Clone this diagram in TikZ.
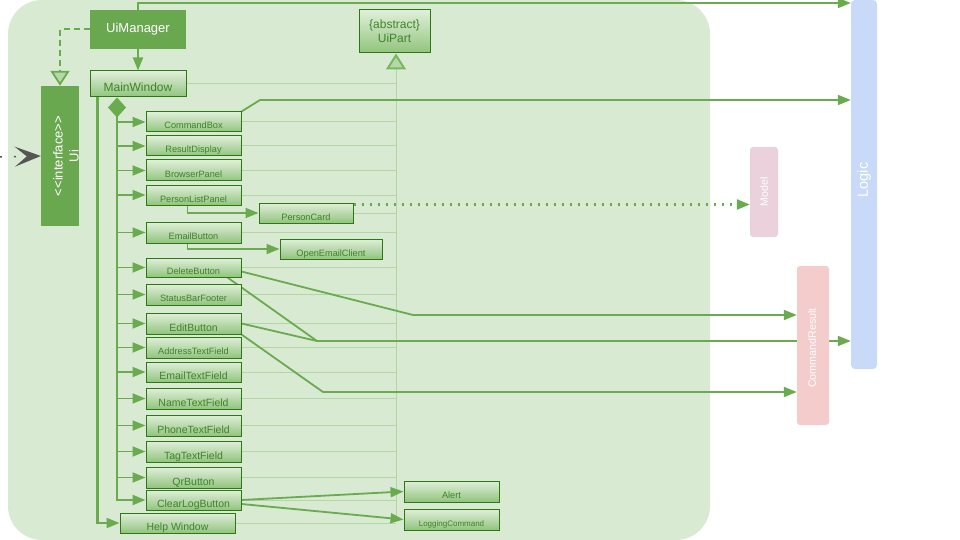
\documentclass[tikz,border=0pt]{standalone}
\usepackage{fontspec}
\setmainfont{Liberation Sans}
\usetikzlibrary{arrows.meta,shapes.geometric,calc}
\pgfdeclarelayer{back}
\pgfdeclarelayer{conn}
\pgfsetlayers{back,conn,main}

\definecolor{bg}{RGB}{217,234,211}
\definecolor{dg}{RGB}{106,168,79}
\definecolor{ln}{RGB}{106,171,80}
\definecolor{bd}{RGB}{45,120,20}
\definecolor{tx}{RGB}{62,132,42}
\definecolor{gtop}{RGB}{224,239,218}
\definecolor{gbot}{RGB}{145,196,125}
\definecolor{thinc}{RGB}{180,214,165}
\definecolor{trif}{RGB}{182,215,168}
\definecolor{midg}{RGB}{120,185,95}
\definecolor{logicc}{RGB}{201,218,248}
\definecolor{modelc}{RGB}{234,209,220}
\definecolor{crc}{RGB}{244,204,204}
\definecolor{grayc}{RGB}{85,85,85}

\begin{document}
\begin{tikzpicture}[x=1pt,y=-1pt,
  gbox/.style={draw=bd, line width=1pt, top color=gtop, bottom color=gbot, inner sep=0pt, text=tx},
  comp/.style={gbox, minimum width=95pt, minimum height=20pt, text height=14pt, text depth=0pt, font=\fontsize{9.2}{10}\selectfont},
  big/.style={font=\fontsize{10.5}{12}\selectfont, text height=15.5pt},
  cn/.style={draw=ln, line width=1.8pt},
  arr/.style={-{Triangle[length=13pt,width=10pt]}},
  trunk/.style={draw=ln, line width=2.2pt},
  thinline/.style={draw=thinc, line width=1pt},
  rotlbl/.style={rotate=90, text=white, inner sep=0pt}
]
\useasboundingbox (0,0) rectangle (960,540);
\begin{pgfonlayer}{back}
  \fill[white] (0,0) rectangle (960,540);
  \fill[bg, rounded corners=34pt] (8,0) rectangle (710,540);
\end{pgfonlayer}

% right-hand packages
\node[fill=logicc, rounded corners=4pt, minimum width=26pt, minimum height=369pt, inner sep=0pt] (Logic) at (864,184.5) {};
\node[rotlbl, font=\fontsize{14.6}{16}\selectfont] (LogicLbl) at (864,180) {Logic};
\node[fill=modelc, rounded corners=3pt, minimum width=28pt, minimum height=90pt, inner sep=0pt] (Model) at (764,192) {};
\node[rotlbl, font=\fontsize{10.6}{12}\selectfont] (ModelLbl) at (Model.center) {Model};
\node[fill=crc, rounded corners=3pt, minimum width=32pt, minimum height=159pt, inner sep=0pt] (CommandResult) at (813,345.5) {};
\node[rotlbl, font=\fontsize{10.7}{12}\selectfont] (CRLbl) at (812,348) {CommandResult};

% main classes
\node[fill=dg, minimum width=96pt, minimum height=39pt, inner sep=0pt, text=white, font=\fontsize{13}{15}\selectfont] (UiManager) at (138,29.5) {UiManager};
\node[gbox, minimum width=96pt, minimum height=26pt, text height=16pt, text depth=0pt, font=\fontsize{12}{14}\selectfont] (MainWindow) at (138,84) {MainWindow};
\node[gbox, minimum width=71pt, minimum height=43pt, align=center, font=\fontsize{12}{14}\selectfont] (UiPart) at (394.5,31.5) {\{abstract\}\\UiPart};
\node[fill=dg, minimum width=38pt, minimum height=140pt, inner sep=0pt] (Ui) at (60,156) {};
\node[rotlbl, align=center, font=\fontsize{13}{16}\selectfont] (UiLbl) at ([xshift=6pt]Ui.center) {<{}<interface>{}>\\Ui};

% components
\node[comp] (CommandBox) at (193.5,122) {CommandBox};
\node[comp] (ResultDisplay) at (193.5,146) {ResultDisplay};
\node[comp, minimum height=21pt] (BrowserPanel) at (193.5,170.5) {BrowserPanel};
\node[comp] (PersonListPanel) at (193.5,195) {PersonListPanel};
\node[comp, minimum height=21pt] (EmailButton) at (193.5,232.5) {EmailButton};
\node[comp, minimum height=19pt] (DeleteButton) at (193.5,267.5) {DeleteButton};
\node[comp, minimum height=21pt] (StatusBarFooter) at (193.5,294.5) {StatusBarFooter};
\node[comp, big, minimum height=21pt] (EditButton) at (193.5,323.5) {EditButton};
\node[comp, minimum height=21pt] (AddressTextField) at (193.5,347.5) {AddressTextField};
\node[comp, big] (EmailTextField) at (193.5,372) {EmailTextField};
\node[comp, big, minimum height=21pt] (NameTextField) at (193.5,398.5) {NameTextField};
\node[comp, big, minimum height=21pt] (PhoneTextField) at (193.5,425.5) {PhoneTextField};
\node[comp, big, minimum height=21pt] (TagTextField) at (193.5,451.5) {TagTextField};
\node[comp, big, minimum height=21pt] (QrButton) at (193.5,477.5) {QrButton};
\node[comp, big] (ClearLogButton) at (193.5,500) {ClearLogButton};
\node[comp, big, minimum width=115pt] (HelpWindow) at (177.5,523) {Help Window};
\node[comp, minimum width=94pt] (PersonCard) at (306,213) {PersonCard};
\node[comp, minimum width=102pt] (OpenEmailClient) at (331,249) {OpenEmailClient};
\node[comp, minimum height=21pt] (Alert) at (451.5,491.5) {Alert};
\node[comp, minimum height=21pt, font=\fontsize{8}{9}\selectfont, text height=13pt] (LoggingCommand) at (451.5,519.5) {LoggingCommand};

\begin{pgfonlayer}{conn}
  % inheritance from UiPart
  \coordinate (ut) at (396,519);
  \foreach \n in {MainWindow,CommandBox,ResultDisplay,BrowserPanel,PersonListPanel,PersonCard,EmailButton,DeleteButton,StatusBarFooter,EditButton,AddressTextField,EmailTextField,NameTextField,PhoneTextField,TagTextField,QrButton,ClearLogButton,HelpWindow}
    \draw[thinline] (\n.east) -- (\n.east -| ut);
  \draw[thinline, -{Triangle[color=midg, fill=trif, length=16pt, width=20pt, line width=2pt]}] (ut) -- (ut |- UiPart.south);

  % realization of Ui
  \draw[draw=ln, line width=2pt, dash pattern=on 6pt off 4pt, -{Triangle[fill=trif, length=15pt, width=19pt, line width=1.8pt]}] (UiManager.west) -| (Ui.north);
  % incoming to Ui
  \coordinate (uin) at (0,157);
  \draw[draw=grayc, line width=1.5pt, dash pattern=on 2pt off 12pt, -{Stealth[length=26pt, width=20pt, inset=12pt]}] (uin) -- (Ui.west);

  % UiManager
  \draw[cn, arr] (UiManager.south) -- (MainWindow.north);
  \coordinate (t1) at (138,3);
  \draw[cn, arr] (UiManager.north) -- (t1) -- (t1 -| Logic.west);

  % composition trunk
  \coordinate (trk) at (117,500);
  \draw[trunk, {Diamond[length=20pt,width=18pt]}-{Triangle[length=13pt,width=10pt]}] (MainWindow.south -| trk) -- (trk) -- (ClearLogButton.west);
  \foreach \n in {CommandBox,ResultDisplay,BrowserPanel,PersonListPanel,EmailButton,DeleteButton,StatusBarFooter,EditButton,AddressTextField,EmailTextField,NameTextField,PhoneTextField,TagTextField,QrButton}
    \draw[cn, arr] (\n.west -| trk) -- (\n.west);
  \draw[trunk, arr] ([xshift=8pt]MainWindow.south west) |- (HelpWindow.west);

  % other connectors
  \coordinate (c1) at (260,100);
  \draw[cn, arr] (CommandBox.north east) -- (c1) -- (c1 -| Logic.west);
  \draw[cn, arr] ([xshift=42pt]PersonListPanel.south west) |- (PersonCard.west);
  \draw[cn, arr] ([xshift=42pt]EmailButton.south west) |- (OpenEmailClient.west);
  \coordinate (pc1) at ([yshift=-2pt]PersonCard.north east);
  \draw[draw=ln, line width=2.5pt, dash pattern=on 2.2pt off 5.8pt, arr] (pc1) -- (pc1 -| Model.west);
  \coordinate (d1) at (413,315);
  \draw[cn, arr] ([yshift=-4pt]DeleteButton.east) -- (d1) -- (d1 -| CommandResult.west);
  \coordinate (m1) at (317,341);
  \draw[cn, arr] ([xshift=34pt]DeleteButton.south) -- (m1) -- (m1 -| Logic.west);
  \draw[cn] (EditButton.east) -- (m1);
  \coordinate (e1) at (323,392);
  \draw[cn, arr] (EditButton.south east) -- (e1) -- (e1 -| CommandResult.west);
  \draw[cn, arr] (ClearLogButton.east) -- (Alert.west);
  \draw[cn, arr] ([yshift=-4pt]ClearLogButton.east) -- (LoggingCommand.west);
\end{pgfonlayer}
\end{tikzpicture}
\end{document}
